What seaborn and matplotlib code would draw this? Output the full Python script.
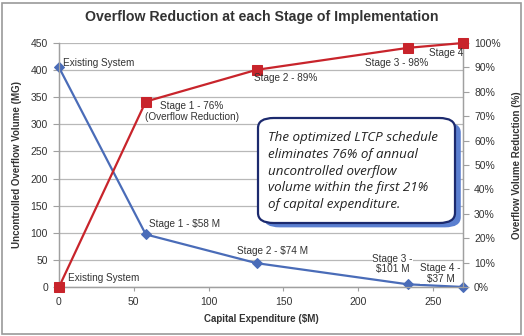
import matplotlib
matplotlib.use("Agg")
import matplotlib.pyplot as plt
import seaborn as sns
import pandas as pd
from matplotlib.patches import FancyBboxPatch, Rectangle

sns.set_theme(style="white")
plt.rcParams['font.family'] = ['Liberation Sans', 'DejaVu Sans']

capex = [0, 58, 132, 233, 270]
volume = [405, 97, 44, 5, 0]
reduction = [0, 76, 89, 98, 100]
x_ticks = [0, 50, 100, 150, 200, 250]
y_ticks = [0, 50, 100, 150, 200, 250, 300, 350, 400, 450]
y2_ticks = [0, 10, 20, 30, 40, 50, 60, 70, 80, 90, 100]

df = pd.DataFrame({"capex": capex, "volume": volume, "reduction": reduction})

BLUE = "#4a6cb8"
RED = "#c8242b"
TXT = "#333333"

fig = plt.figure(figsize=(5.24, 3.36), dpi=100)
fig.patch.set_facecolor("white")
ax = fig.add_axes([59/524, 1-287/336, (463-59)/524, (287-43)/336])
ax2 = ax.twinx()

sns.lineplot(data=df, x="capex", y="volume", ax=ax, color=BLUE, marker="D",
             markersize=5, markeredgecolor=BLUE, linewidth=1.6, clip_on=False, zorder=3)
sns.lineplot(data=df, x="capex", y="reduction", ax=ax2, color=RED, marker="s",
             markersize=7, markeredgecolor=RED, linewidth=1.6, clip_on=False, zorder=3)

ax.set_xlim(0, 270)
ax.set_ylim(0, 450)
ax2.set_ylim(0, 100)
ax.set_xticks(x_ticks)
ax.set_yticks(y_ticks)
ax2.set_yticks(y2_ticks)
ax2.set_yticklabels([f"{v}%" for v in y2_ticks])
ax.yaxis.grid(True, color="#b8b8b8", linewidth=0.9)
ax.set_axisbelow(True)

for a in (ax, ax2):
    for s in a.spines.values():
        s.set_color("#a0a0a0")
        s.set_linewidth(0.9)
    a.spines["top"].set_visible(False)
    a.tick_params(labelsize=7.5, colors="#a0a0a0", labelcolor=TXT, length=3, width=0.8, pad=4)
ax.tick_params(axis="x", direction="out", length=3, bottom=True)
ax.tick_params(axis="y", left=True, length=4)
ax2.tick_params(axis="y", right=True, length=4)

ax.set_xlabel("Capital Expenditure ($M)", fontsize=7, fontweight="bold", color=TXT, labelpad=5)
ax.set_ylabel("Uncontrolled Overflow Volume (MG)", fontsize=7, fontweight="bold", color=TXT, labelpad=6)
ax2.set_ylabel("Overflow Volume Reduction (%)", fontsize=7, fontweight="bold", color=TXT, labelpad=8)

fig.text(0.5, 1-17/336, "Overflow Reduction at each Stage of Implementation",
         ha="center", va="center", fontsize=10.2, fontweight="bold", color=TXT)

fs = 7.2
# Blue labels (ax data coords)
ax.text(3, 403, "Existing System", fontsize=fs, color=TXT, ha="left", va="bottom")
ax.text(60, 117, "Stage 1 - $58 M", fontsize=fs, color=TXT, ha="left", va="center")
ax.text(119, 67, "Stage 2 - $74 M", fontsize=fs, color=TXT, ha="left", va="center")
ax.text(223, 42, "Stage 3 -\n$101 M", fontsize=fs, color=TXT, ha="center", va="center",
        linespacing=1.05, bbox=dict(facecolor="white", edgecolor="none", pad=0.3))
ax.text(255, 25, "Stage 4 -\n$37 M", fontsize=fs, color=TXT, ha="center", va="center",
        linespacing=1.05, bbox=dict(facecolor="white", edgecolor="none", pad=0.3))
ax.text(6, 17, "Existing System", fontsize=fs, color=TXT, ha="left", va="center")

# Red labels (ax2 data coords)
ax2.text(89, 72, "Stage 1 - 76%\n(Overflow Reduction)", fontsize=fs, color=TXT,
         ha="center", va="center", linespacing=1.05)
ax2.text(130.5, 85.7, "Stage 2 - 89%", fontsize=fs, color=TXT, ha="left", va="center")
ax2.text(247, 91.8, "Stage 3 - 98%", fontsize=fs, color=TXT, ha="right", va="center")
ax2.text(270, 95.9, "Stage 4", fontsize=fs, color=TXT, ha="right", va="center")

# Callout box with shadow
bx0, by0, bw, bh = 258/524, 1-223/336, (455-258)/524, (223-118)/336
shadow = FancyBboxPatch((bx0+0.011, by0-0.013), bw, bh, boxstyle="round,pad=0,rounding_size=0.03",
                        transform=fig.transFigure, facecolor="#5b7fd0", edgecolor="none", zorder=5)
box = FancyBboxPatch((bx0, by0), bw, bh, boxstyle="round,pad=0,rounding_size=0.03",
                     transform=fig.transFigure, facecolor="white", edgecolor="#1c2a6e",
                     linewidth=1.6, zorder=6)
fig.patches.extend([shadow, box])
fig.text(268/524, 1-171/336,
         "The optimized LTCP schedule\neliminates 76% of annual\nuncontrolled overflow\nvolume within the first 21%\nof capital expenditure.",
         ha="left", va="center", fontsize=9.6, style="italic", color="#222222",
         family=["Open Sans", "DejaVu Sans"], linespacing=1.36, zorder=7)

# outer frame
fig.patches.append(Rectangle((0.004, 0.006), 0.99, 0.985, transform=fig.transFigure,
                             facecolor="none", edgecolor="#9a9a9a", linewidth=1.2))

fig.savefig("out.png", dpi=100)
